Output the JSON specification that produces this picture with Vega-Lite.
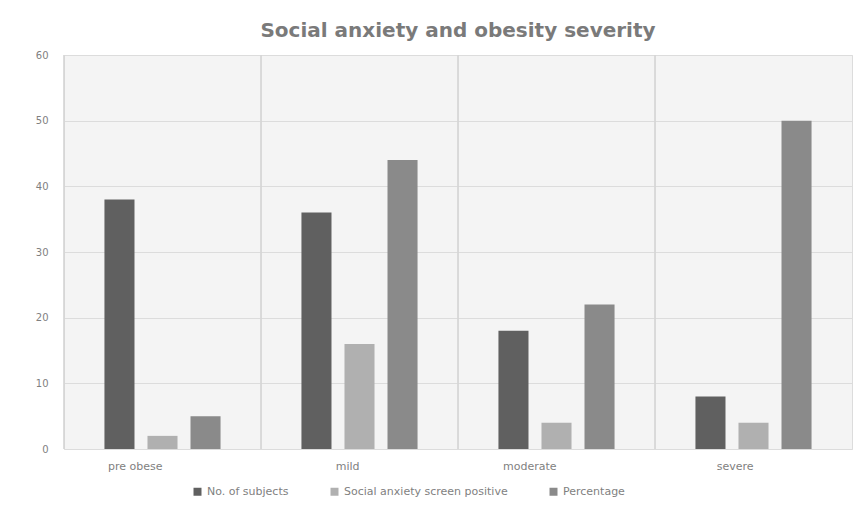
{
  "$schema": "https://vega.github.io/schema/vega-lite/v6.json",
  "autosize": {"type": "none"},
  "padding": {"left": 64, "top": 55, "right": 9, "bottom": 57},
  "width": 788,
  "height": 394,
  "background": "white",
  "config": {
    "font": "DejaVu Sans",
    "view": {"fill": "#f4f4f4", "stroke": "#dcdcdc"}
  },
  "title": {
    "text": "Social anxiety and obesity severity",
    "fontSize": 20,
    "fontWeight": "bold",
    "color": "#7a7a7a",
    "anchor": "middle",
    "offset": 9
  },
  "data": {
    "values": [
      {"category": "pre obese", "series": "No. of subjects", "value": 38},
      {"category": "pre obese", "series": "Social anxiety screen positive", "value": 2},
      {"category": "pre obese", "series": "Percentage", "value": 5},
      {"category": "mild", "series": "No. of subjects", "value": 36},
      {"category": "mild", "series": "Social anxiety screen positive", "value": 16},
      {"category": "mild", "series": "Percentage", "value": 44},
      {"category": "moderate", "series": "No. of subjects", "value": 18},
      {"category": "moderate", "series": "Social anxiety screen positive", "value": 4},
      {"category": "moderate", "series": "Percentage", "value": 22},
      {"category": "severe", "series": "No. of subjects", "value": 8},
      {"category": "severe", "series": "Social anxiety screen positive", "value": 4},
      {"category": "severe", "series": "Percentage", "value": 50}
    ]
  },
  "layer": [
    {
      "mark": {"type": "rule", "color": "#d6d6d6", "strokeWidth": 1},
      "encoding": {
        "x": {"field": "category", "type": "nominal", "bandPosition": 0,
              "sort": ["pre obese", "mild", "moderate", "severe"]}
      }
    },
    {
      "mark": {"type": "bar"},
      "encoding": {
        "x": {
          "field": "category", "type": "nominal",
          "sort": ["pre obese", "mild", "moderate", "severe"],
          "scale": {"paddingInner": 0, "paddingOuter": 0},
          "axis": {"title": null, "labelAngle": 0, "labelColor": "#7f7f7f", "labelFontSize": 11,
                   "domain": false, "ticks": false, "grid": false, "labelPadding": 17}
        },
        "xOffset": {
          "field": "series", "type": "nominal",
          "sort": ["No. of subjects", "Social anxiety screen positive", "Percentage"],
          "scale": {"paddingInner": 0.302, "paddingOuter": 0.94}
        },
        "y": {
          "field": "value", "type": "quantitative",
          "scale": {"domain": [0, 60]},
          "axis": {"title": null, "values": [0, 10, 20, 30, 40, 50, 60], "labelColor": "#7f7f7f",
                   "labelFontSize": 10, "domain": false, "ticks": false, "gridColor": "#dcdcdc",
                   "labelPadding": 16}
        },
        "color": {
          "field": "series", "type": "nominal",
          "sort": ["No. of subjects", "Social anxiety screen positive", "Percentage"],
          "scale": {"domain": ["No. of subjects", "Social anxiety screen positive", "Percentage"],
                    "range": ["#606060", "#b0b0b0", "#8a8a8a"]},
          "legend": {
            "title": null, "orient": "none", "legendX": 128, "legendY": 431,
            "direction": "horizontal",
            "symbolType": "square", "symbolSize": 64, "labelColor": "#7f7f7f",
            "labelFontSize": 11, "labelLimit": 400, "columnPadding": 40, "symbolStrokeWidth": 0
          }
        }
      }
    }
  ]
}
